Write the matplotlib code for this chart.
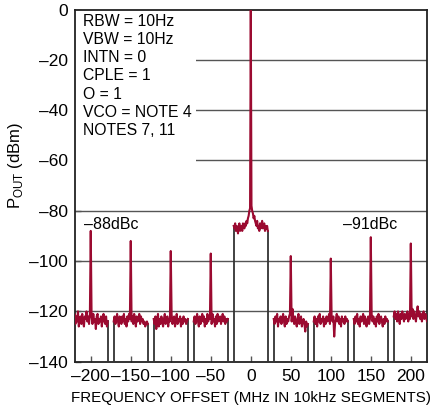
import numpy as np
import matplotlib
matplotlib.use("Agg")
import matplotlib.pyplot as plt
from matplotlib.patches import Rectangle

plt.rcParams['font.family'] = ['Liberation Sans', 'DejaVu Sans']
plt.rcParams['mathtext.fontset'] = 'custom'
plt.rcParams['mathtext.rm'] = 'Liberation Sans'

# segment centres (MHz) and spur levels (dBm)
seg_centers = [-200, -150, -100, -50, 50, 100, 150, 200]
spur_levels = [-88, -92, -96, -97, -98, -99, -90.5, -93]

# noise floor samples per segment (dBm), 40 each, spur goes in the middle
noise = [
    [-123, -121, -125, -122, -124, -120, -126, -123, -122, -125, -121, -124, -126, -122, -123, -120, -124, -122, -125, -121,
     -122, -125, -121, -124, -123, -127, -122, -121, -125, -123, -124, -122, -126, -123, -121, -124, -125, -122, -126, -124],
    [-124, -122, -125, -123, -121, -124, -126, -122, -123, -125, -122, -124, -121, -125, -123, -126, -122, -124, -121, -123,
     -124, -122, -125, -121, -123, -126, -122, -124, -123, -121, -125, -122, -124, -123, -125, -124, -126, -125, -124, -125],
    [-123, -125, -122, -127, -124, -121, -126, -123, -125, -122, -124, -126, -123, -121, -125, -124, -122, -126, -123, -124,
     -121, -125, -123, -122, -126, -124, -121, -125, -123, -124, -122, -126, -123, -125, -122, -124, -123, -125, -124, -123],
    [-124, -122, -125, -123, -121, -124, -126, -122, -125, -123, -121, -124, -122, -126, -123, -125, -121, -124, -122, -123,
     -125, -121, -124, -123, -126, -122, -125, -121, -124, -123, -122, -125, -123, -121, -124, -122, -125, -123, -124, -123],
    [-123, -125, -122, -124, -121, -126, -123, -124, -122, -125, -123, -121, -124, -126, -122, -125, -123, -124, -122, -121,
     -124, -119, -123, -125, -122, -124, -126, -123, -121, -125, -124, -122, -126, -124, -123, -125, -128, -124, -126, -125],
    [-124, -122, -125, -123, -126, -122, -124, -121, -125, -123, -124, -122, -126, -123, -125, -122, -124, -123, -121, -125,
     -123, -124, -122, -130, -125, -123, -121, -124, -122, -125, -123, -126, -122, -124, -123, -125, -122, -124, -123, -124],
    [-123, -125, -122, -124, -121, -125, -123, -126, -122, -124, -123, -121, -125, -122, -124, -126, -123, -122, -125, -123,
     -121, -124, -122, -125, -123, -126, -122, -124, -121, -125, -123, -122, -124, -126, -123, -125, -122, -124, -123, -124],
    [-122, -120, -123, -121, -124, -120, -122, -125, -121, -123, -120, -122, -124, -121, -123, -122, -120, -124, -121, -123,
     -122, -119, -123, -120, -122, -124, -121, -118, -122, -120, -123, -121, -124, -122, -120, -123, -121, -122, -124, -122],
]

# centre segment around the carrier (dBm), carrier in the middle
center_trace = [-86, -87, -85, -88, -86, -87, -89, -86, -85, -88, -87, -86, -88, -85, -86, -87, -85, -86, -84, -85,
                -83, -82, -80, -79, 0, -78, -80, -81, -83, -82, -84, -85, -86, -84, -87, -86, -88, -85, -87, -86,
                -84, -87, -86, -85, -88, -86, -87, -86, -88]

y_ticks = [0, -20, -40, -60, -80, -100, -120, -140]
x_ticks = [-200, -150, -100, -50, 0, 50, 100, 150, 200]

red = '#9B0A30'
half_w = 21.3

fig = plt.figure(figsize=(4.32, 4.16), dpi=100)
ax = fig.add_axes([0.173, 0.1305, 0.815, 0.8465])
ax.set_xlim(-220, 220)
ax.set_ylim(-140, 0)

for y in y_ticks[1:-1]:
    ax.axhline(y, color='#555555', lw=1.0, zorder=1)

# text box hides the left part of the upper grid lines
ax.add_patch(Rectangle((-220, -63.5), 151, 63.5, facecolor='white', edgecolor='none', zorder=2))
ax.text(-210, -1.8, "RBW = 10Hz\nVBW = 10Hz\nINTN = 0\nCPLE = 1\nO = 1\nVCO = NOTE 4\nNOTES 7, 11",
        ha='left', va='top', fontsize=11.3, linespacing=1.26, zorder=3)


def draw_segment(c, vals):
    x = c + np.linspace(-half_w, half_w, len(vals))
    ax.plot([x[0], x[0]], [-140, vals[0]], color='#333333', lw=1.3, zorder=3)
    ax.plot([x[-1], x[-1]], [-140, vals[-1]], color='#333333', lw=1.3, zorder=3)
    ax.plot(x, vals, color=red, lw=1.5, zorder=4)


for c, lvl, n in zip(seg_centers, spur_levels, noise):
    vals = n[:20] + [lvl] + n[20:]
    draw_segment(c, vals)
draw_segment(0, center_trace)

ax.text(-209, -85.5, "\u201388dBc", fontsize=11.5, ha='left', va='center', zorder=5)
ax.text(115, -85.5, "\u201391dBc", fontsize=11.5, ha='left', va='center', zorder=5)

ax.set_xticks(x_ticks)
ax.set_xticklabels([str(v).replace('-', '\u2013') for v in x_ticks])
ax.set_yticks(y_ticks)
ax.set_yticklabels([str(v).replace('-', '\u2013') for v in y_ticks])
ax.tick_params(direction='in', length=4, width=1, color='#555555', labelsize=12.5, pad=5)
for s in ax.spines.values():
    s.set_linewidth(1.3)
    s.set_color('#222222')

ax.set_xlabel("FREQUENCY OFFSET (MHz IN 10kHz SEGMENTS)", fontsize=10.9, labelpad=5)
fig.text(16 / 432, 1 - 165 / 416, r'P$_{\mathrm{OUT}}$ (dBm)', rotation=90, ha='center', va='center', fontsize=12)

fig.savefig('out.png', dpi=100)
